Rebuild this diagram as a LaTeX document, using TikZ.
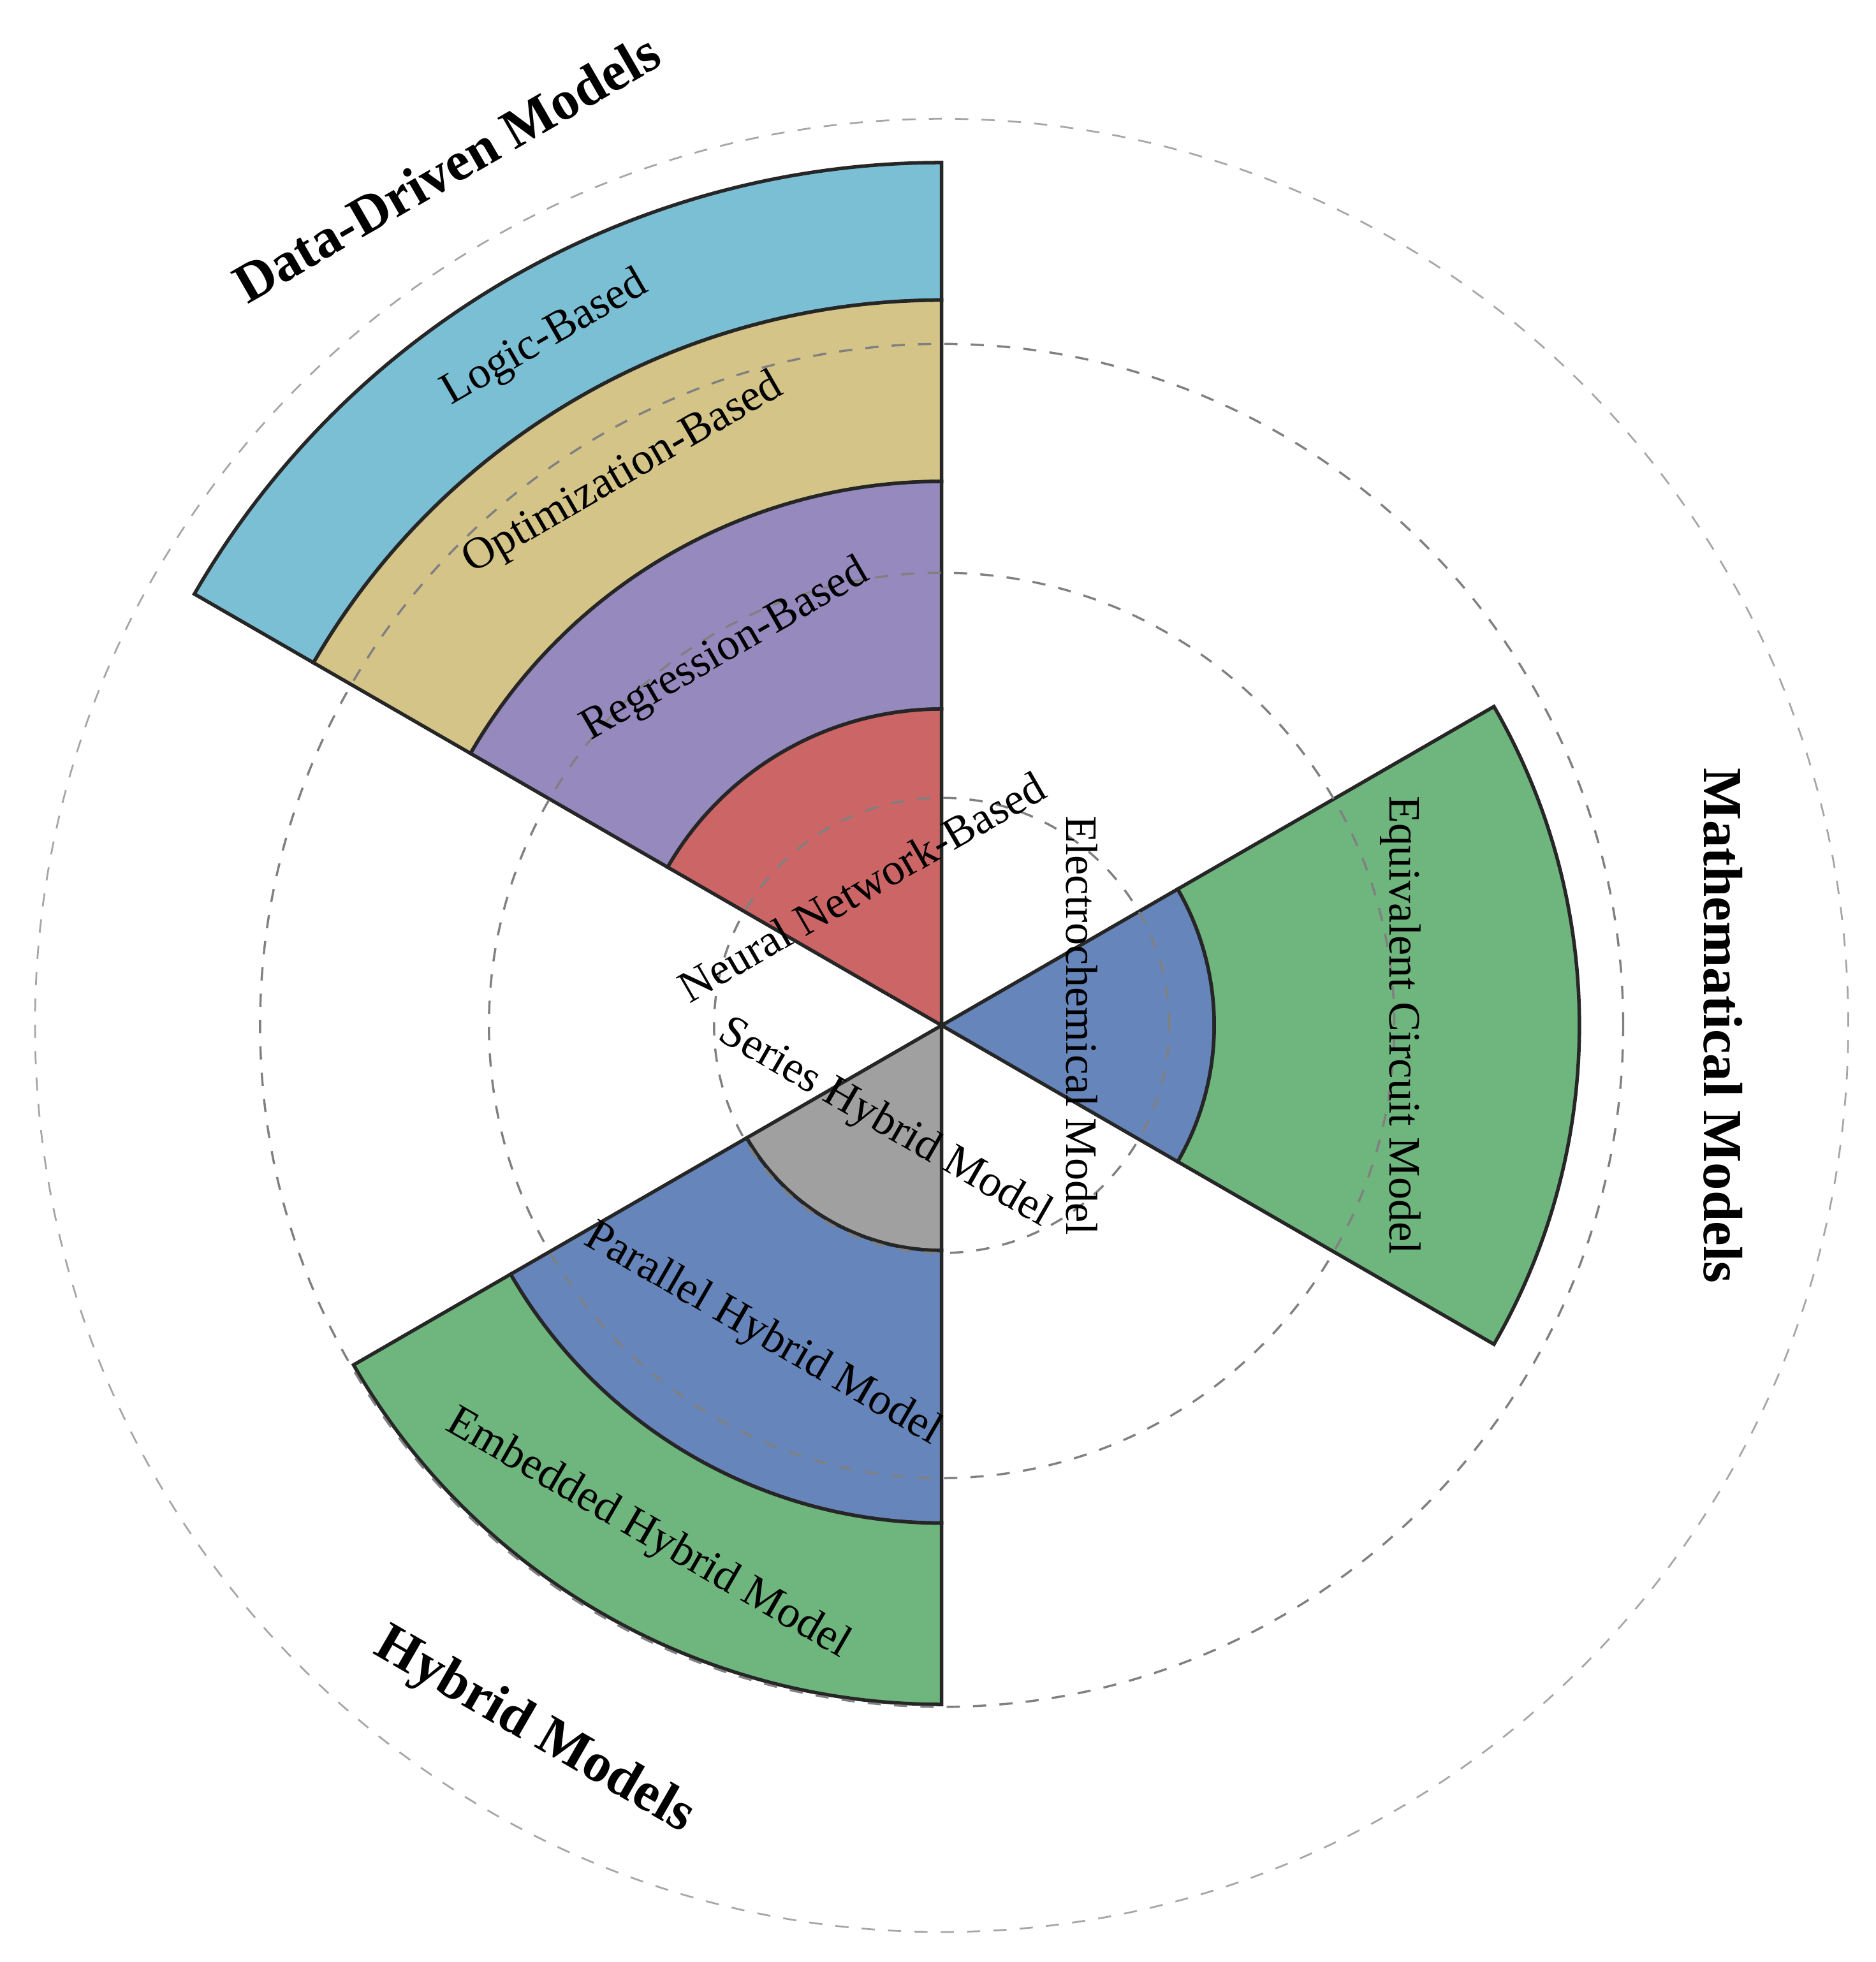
\documentclass[tikz,border=0pt]{standalone}
\usepackage{fontspec}
\setmainfont{Liberation Serif}
\definecolor{cSky}{HTML}{7BBFD5}
\definecolor{cTan}{HTML}{D4C488}
\definecolor{cPur}{HTML}{9589BE}
\definecolor{cRed}{HTML}{CC6566}
\definecolor{cGrn}{HTML}{6FB57E}
\definecolor{cBlu}{HTML}{6685BA}
\definecolor{cGry}{HTML}{A0A0A0}
\newcommand{\sect}[5]{% color, a1, a2, r1, r2
  \filldraw[sector,fill=#1] (#2:#4) arc[start angle=#2,end angle=#3,radius=#4] -- (#3:#5) arc[start angle=#3,end angle=#2,radius=#5] -- cycle;}
\begin{document}
\begin{tikzpicture}[
  sector/.style={draw=black!85,line width=0.8pt},
  ring/.style={draw=black!50,dashed,line width=0.5pt},
  lab/.style={font=\fontsize{10.2}{12}\selectfont,inner sep=0pt},
  ttl/.style={font=\fontsize{12.6}{15}\selectfont\bfseries,inner sep=0pt}]
\useasboundingbox (-7.53,-7.49) rectangle (7.47,8.20);
% sectors
\sect{cSky}{90}{150}{5.80}{6.90}
\sect{cTan}{90}{150}{4.35}{5.80}
\sect{cPur}{90}{150}{2.53}{4.35}
\filldraw[sector,fill=cRed] (0,0) -- (90:2.53) arc[start angle=90,end angle=150,radius=2.53] -- cycle;
\filldraw[sector,fill=cBlu] (0,0) -- (-30:2.18) arc[start angle=-30,end angle=30,radius=2.18] -- cycle;
\sect{cGrn}{-30}{30}{2.18}{5.10}
\filldraw[sector,fill=cGry] (0,0) -- (210:1.80) arc[start angle=210,end angle=270,radius=1.80] -- cycle;
\sect{cBlu}{210}{270}{1.80}{3.98}
\sect{cGrn}{210}{270}{3.98}{5.43}
% rings
\draw[ring] (0,0) circle[radius=1.82];
\draw[ring] (0,0) circle[radius=3.62];
\draw[ring] (0,0) circle[radius=5.45];
\draw[ring,draw=black!35,line width=0.4pt] (0,0) circle[radius=7.25];
% labels
\node[lab,rotate=30] (lb) at (120:6.34) {Logic-Based};
\node[lab,rotate=30] (ob) at (120:5.09) {Optimization-Based};
\node[lab,rotate=30] (rb) at (120:3.46) {Regression-Based};
\node[lab,rotate=30] (nb) at (120:1.28) {Neural Network-Based};
\node[ttl,rotate=30] (dd) at (120:7.92) {Data-Driven Models};
\node[lab,rotate=-90] (em) at (0:1.12) {Electrochemical Model};
\node[lab,rotate=-90] (ec) at (0:3.67) {Equivalent Circuit Model};
\node[ttl,rotate=-90] (mm) at (0:6.25) {Mathematical Models};
\node[lab,rotate=-30] (sh) at (240:0.91) {Series Hybrid Model};
\node[lab,rotate=-30] (ph) at (240:2.86) {Parallel Hybrid Model};
\node[lab,rotate=-30] (eh) at (240:4.70) {Embedded Hybrid Model};
\node[ttl,rotate=-30] (hm) at (240:6.52) {Hybrid Models};
\end{tikzpicture}
\end{document}
